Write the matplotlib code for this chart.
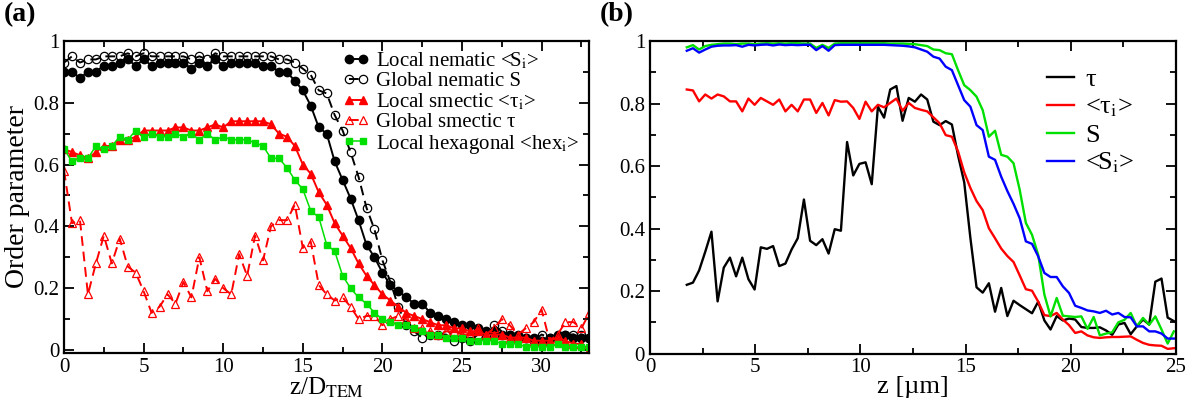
import matplotlib
matplotlib.use("Agg")
import matplotlib.pyplot as plt
from matplotlib.ticker import MultipleLocator
import numpy as np

plt.rcParams['font.family'] = ['Liberation Serif', 'DejaVu Serif']
plt.rcParams['mathtext.fontset'] = 'stix'

# ---- panel (a) data : z/D_TEM = 0, 0.5, ... 33
za = np.arange(67) * 0.5

local_S = [0.90, 0.90, 0.88, 0.90, 0.90, 0.92, 0.92, 0.93, 0.94, 0.92,
           0.94, 0.92, 0.93, 0.93, 0.93, 0.93, 0.91, 0.93, 0.92, 0.94,
           0.92, 0.93, 0.93, 0.93, 0.93, 0.92, 0.92, 0.90, 0.90, 0.87,
           0.84, 0.79, 0.72, 0.70, 0.61, 0.55, 0.49, 0.42, 0.34, 0.30,
           0.25, 0.21, 0.19, 0.17, 0.15, 0.15, 0.12, 0.11, 0.10, 0.09,
           0.08, 0.08, 0.07, 0.06, 0.06, 0.05, 0.05, 0.05, 0.04, 0.04,
           0.03, 0.04, 0.05, 0.05, 0.04, 0.04, 0.04]
global_S = [0.93, 0.95, 0.93, 0.94, 0.94, 0.95, 0.95, 0.95, 0.96, 0.95,
            0.96, 0.95, 0.95, 0.95, 0.95, 0.95, 0.94, 0.95, 0.94, 0.96,
            0.95, 0.95, 0.95, 0.95, 0.95, 0.95, 0.95, 0.94, 0.94, 0.93,
            0.91, 0.89, 0.84, 0.83, 0.76, 0.71, 0.64, 0.56, 0.46, 0.39,
            0.29, 0.22, 0.14, 0.08, 0.06, 0.04, 0.05, 0.05, 0.05, 0.03,
            0.04, 0.03, 0.05, 0.05, 0.08, 0.06, 0.05, 0.04, 0.04, 0.03,
            0.05, 0.04, 0.04, 0.05, 0.05, 0.05, 0.04]
local_tau = [0.65, 0.64, 0.63, 0.62, 0.64, 0.66, 0.66, 0.68, 0.68, 0.69,
             0.71, 0.71, 0.71, 0.71, 0.72, 0.72, 0.71, 0.71, 0.72, 0.73,
             0.72, 0.74, 0.74, 0.74, 0.74, 0.74, 0.73, 0.70, 0.69, 0.66,
             0.60, 0.57, 0.51, 0.47, 0.41, 0.37, 0.33, 0.28, 0.24, 0.21,
             0.18, 0.16, 0.14, 0.12, 0.11, 0.10, 0.09, 0.08, 0.08, 0.07,
             0.07, 0.06, 0.06, 0.05, 0.05, 0.05, 0.04, 0.04, 0.04, 0.03,
             0.03, 0.03, 0.04, 0.03, 0.02, 0.02, 0.00]
global_tau = [0.58, 0.41, 0.42, 0.18, 0.28, 0.37, 0.28, 0.36, 0.27, 0.25,
              0.19, 0.12, 0.14, 0.18, 0.15, 0.22, 0.17, 0.30, 0.19, 0.23,
              0.20, 0.18, 0.31, 0.24, 0.37, 0.29, 0.40, 0.42, 0.42, 0.47,
              0.33, 0.35, 0.21, 0.18, 0.16, 0.17, 0.14, 0.10, 0.11, 0.11,
              0.08, 0.10, 0.11, 0.10, 0.07, 0.07, 0.06, 0.05, 0.06, 0.06,
              0.05, 0.05, 0.07, 0.05, 0.07, 0.10, 0.08, 0.05, 0.07, 0.09,
              0.13, 0.03, 0.05, 0.09, 0.09, 0.07, 0.12]
local_hex = [0.65, 0.61, 0.62, 0.62, 0.66, 0.65, 0.66, 0.69, 0.68, 0.71,
             0.69, 0.70, 0.69, 0.69, 0.70, 0.69, 0.70, 0.68, 0.70, 0.68,
             0.69, 0.68, 0.68, 0.68, 0.67, 0.66, 0.62, 0.62, 0.59, 0.55,
             0.52, 0.45, 0.43, 0.34, 0.32, 0.24, 0.20, 0.17, 0.15, 0.12,
             0.10, 0.09, 0.08, 0.08, 0.07, 0.06, 0.05, 0.05, 0.04, 0.04,
             0.04, 0.03, 0.03, 0.03, 0.03, 0.02, 0.02, 0.02, 0.01, 0.01,
             0.01, 0.01, 0.02, 0.01, 0.01, 0.01, 0.01]

# ---- panel (b) data : z in um, 80 samples
zb = 1.75 + np.arange(80) * 0.293

tau_b = [0.22, 0.227, 0.266, 0.326, 0.39, 0.167, 0.275, 0.307, 0.247, 0.307,
         0.238, 0.205, 0.34, 0.335, 0.344, 0.28, 0.288, 0.333, 0.369, 0.493,
         0.361, 0.347, 0.366, 0.32, 0.398, 0.393, 0.677, 0.57, 0.607, 0.612,
         0.542, 0.79, 0.755, 0.845, 0.856, 0.745, 0.818, 0.806, 0.829, 0.813,
         0.742, 0.731, 0.744, 0.733, 0.634, 0.548, 0.37, 0.212, 0.195, 0.225,
         0.134, 0.21, 0.12, 0.169, 0.155, 0.142, 0.129, 0.166, 0.106, 0.077,
         0.12, 0.106, 0.112, 0.109, 0.085, 0.082, 0.082, 0.084, 0.074, 0.06,
         0.093, 0.098, 0.062, 0.087, 0.109, 0.093, 0.23, 0.24, 0.115, 0.104]
tau_i_b = [0.845, 0.842, 0.807, 0.829, 0.816, 0.829, 0.823, 0.807, 0.807, 0.775,
           0.816, 0.796, 0.818, 0.807, 0.796, 0.813, 0.775, 0.796, 0.775, 0.813,
           0.813, 0.77, 0.802, 0.762, 0.811, 0.806, 0.807, 0.786, 0.751, 0.806,
           0.775, 0.796, 0.788, 0.802, 0.816, 0.777, 0.802, 0.786, 0.78, 0.775,
           0.756, 0.737, 0.699, 0.694, 0.647, 0.58, 0.53, 0.488, 0.459, 0.401,
           0.369, 0.336, 0.312, 0.293, 0.25, 0.206, 0.201, 0.166, 0.123, 0.12,
           0.13, 0.109, 0.091, 0.066, 0.071, 0.058, 0.052, 0.05, 0.052, 0.053,
           0.053, 0.054, 0.055, 0.044, 0.034, 0.028, 0.026, 0.025, 0.015, 0.017]
S_b = [0.98, 0.987, 0.973, 0.984, 0.988, 0.99, 0.992, 0.992, 0.99, 0.992,
       0.992, 0.99, 0.992, 0.993, 0.992, 0.993, 0.992, 0.993, 0.993, 0.992,
       0.992, 0.978, 0.988, 0.978, 0.992, 0.993, 0.993, 0.993, 0.993, 0.993,
       0.993, 0.993, 0.993, 0.992, 0.992, 0.992, 0.991, 0.99, 0.987, 0.984,
       0.973, 0.971, 0.961, 0.958, 0.907, 0.859, 0.843, 0.822, 0.779, 0.694,
       0.713, 0.636, 0.63, 0.609, 0.524, 0.418, 0.38, 0.316, 0.189, 0.119,
       0.178, 0.121, 0.119, 0.117, 0.119, 0.079, 0.117, 0.058, 0.064, 0.068,
       0.1, 0.108, 0.13, 0.087, 0.114, 0.092, 0.119, 0.077, 0.032, 0.071]
S_i_b = [0.969, 0.977, 0.963, 0.973, 0.982, 0.985, 0.986, 0.986, 0.987, 0.982,
         0.988, 0.986, 0.988, 0.989, 0.986, 0.989, 0.987, 0.988, 0.987, 0.988,
         0.988, 0.971, 0.984, 0.969, 0.987, 0.988, 0.988, 0.988, 0.988, 0.988,
         0.988, 0.988, 0.988, 0.987, 0.986, 0.985, 0.983, 0.98, 0.973, 0.966,
         0.95, 0.944, 0.918, 0.907, 0.859, 0.811, 0.79, 0.731, 0.715, 0.63,
         0.62, 0.566, 0.52, 0.479, 0.433, 0.359, 0.351, 0.311, 0.258, 0.245,
         0.245, 0.215, 0.194, 0.153, 0.146, 0.138, 0.135, 0.13, 0.137, 0.125,
         0.13, 0.117, 0.116, 0.087, 0.087, 0.071, 0.071, 0.064, 0.048, 0.048]

fig = plt.figure(figsize=(11.95, 4.05), dpi=100)
axa = fig.add_axes([0.0536, 0.129, 0.4396, 0.770])
axb = fig.add_axes([0.5439, 0.127, 0.4402, 0.7716])

green = '#00e000'

axa.plot(za, local_S, 'k-', marker='o', ms=6, lw=1.4, label=r'Local nematic <S$_\mathrm{i}$>')
axa.plot(za, global_S, 'k--', marker='o', ms=6, mfc='none', mew=0.9, lw=1.4,
         dashes=(5, 3), label='Global nematic S')
axa.plot(za, local_tau, '-', color='red', marker='^', ms=6, lw=1.4,
         label=r'Local smectic <τ$_\mathrm{i}$>')
axa.plot(za, global_tau, '--', color='red', marker='^', ms=6, mfc='none', mew=0.9, lw=1.4,
         dashes=(5, 3), label='Global smectic τ')
axa.plot(za, local_hex, '-', color=green, marker='s', ms=5, lw=1.1,
         label=r'Local hexagonal <hex$_\mathrm{i}$>')

axb.plot(zb, tau_b, color='black', lw=1.7, label='τ')
axb.plot(zb, tau_i_b, color='red', lw=1.7, label=r'<τ$_\mathrm{i}$>')
axb.plot(zb, S_b, color=green, lw=1.7, label='S')
axb.plot(zb, S_i_b, color='blue', lw=1.7, label=r'<S$_\mathrm{i}$>')

axa.set_xlim(0, 33)
axa.set_ylim(-0.009, 1)
axb.set_xlim(0, 25)
axb.set_ylim(0, 1)

for ax in (axa, axb):
    ax.xaxis.set_major_locator(MultipleLocator(5))
    ax.xaxis.set_minor_locator(MultipleLocator(2.5))
    ax.yaxis.set_major_locator(MultipleLocator(0.2))
    ax.yaxis.set_minor_locator(MultipleLocator(0.1))
    ax.tick_params(which='both', direction='in', top=True, right=True, labelsize=15, width=1.3)
    ax.tick_params(which='major', length=7)
    ax.tick_params(which='minor', length=4)
    for s in ax.spines.values():
        s.set_linewidth(1.6)
    ax.set_yticks([0, 0.2, 0.4, 0.6, 0.8, 1.0])
    ax.set_yticklabels(['0', '0.2', '0.4', '0.6', '0.8', '1'])

axa.set_xlabel(r'z/D$_\mathrm{TEM}$', fontsize=18, labelpad=-1)
axa.set_ylabel('Order parameter', fontsize=20, labelpad=2)
axb.set_xlabel('z [µm]', fontsize=19, labelpad=-1)

axa.legend(loc='upper right', bbox_to_anchor=(1.005, 1.01), frameon=False, fontsize=15,
           numpoints=2, handlelength=1.3, handletextpad=0.3, labelspacing=0.02,
           borderaxespad=0.2)
axb.legend(loc='upper left', bbox_to_anchor=(0.71, 0.99), frameon=False, fontsize=19,
           handlelength=1.0, handletextpad=0.45, labelspacing=0.15)

fig.text(0.003, 0.995, '(a)', fontsize=20, fontweight='bold', va='top', ha='left')
fig.text(0.502, 0.995, '(b)', fontsize=20, fontweight='bold', va='top', ha='left')

plt.savefig('out.png', dpi=100)
